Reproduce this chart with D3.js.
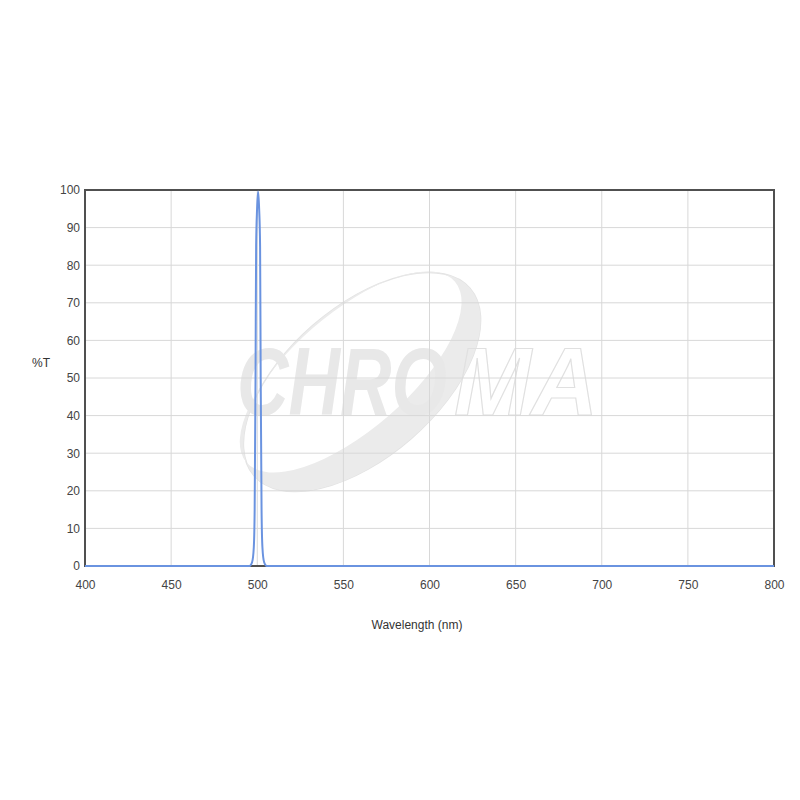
<!DOCTYPE html>
<html>
<head>
<meta charset="utf-8">
<script src="https://cdn.jsdelivr.net/npm/d3@7/dist/d3.min.js"></script>
<style>
  html, body { margin: 0; padding: 0; background: #fff; }
  svg { display: block; }
  text { font-family: "Liberation Sans", Arial, sans-serif; }
</style>
</head>
<body>
<svg id="chart" width="800" height="800"></svg>
<script>
// ---- data ----
const wavelengths = [400, 450, 495.5, 497, 498, 498.5, 499, 499.35, 499.9, 500.5, 501.1, 501.65, 502, 502.5, 503, 504, 505.5, 550, 600, 650, 700, 750, 800];
const transmission = [0, 0, 0, 1, 5, 15, 50, 85, 95, 99.6, 95, 85, 50, 15, 5, 1, 0, 0, 0, 0, 0, 0, 0];
const xTicks = [400, 450, 500, 550, 600, 650, 700, 750, 800];
const yTicks = [0, 10, 20, 30, 40, 50, 60, 70, 80, 90, 100];
const xLabel = "Wavelength (nm)";
const yLabel = "%T";
const watermarkFilled = "CHRO";
const watermarkOutlined = "MA";

const svg = d3.select("#chart");
const m = { left: 85, right: 774, top: 190, bottom: 566 };

const x = d3.scaleLinear().domain([400, 800]).range([m.left, m.right]);
const y = d3.scaleLinear().domain([0, 100]).range([m.bottom, m.top]);

// ---- watermark ----
const wm = svg.append("g").attr("class", "watermark");
const cx = 362, cy = 382, ang = -41;
function ellipsePath(cx0, cy0, rx, ry) {
  return `M${cx0 - rx},${cy0} a${rx},${ry} 0 1,0 ${2 * rx},0 a${rx},${ry} 0 1,0 ${-2 * rx},0 Z`;
}
const eg = wm.append("g").attr("transform", `translate(${cx},${cy}) rotate(${ang})`);
eg.append("path")
  .attr("d", ellipsePath(0, 0, 143, 75))
  .attr("fill", "none")
  .attr("stroke", "#e3e3e3")
  .attr("stroke-width", 1.5);
eg.append("path")
  .attr("d", ellipsePath(0, 0, 143, 75) + " " + ellipsePath(-2, -15, 138, 58))
  .attr("fill", "#ebebeb")
  .attr("fill-rule", "evenodd");

wm.append("text")
  .attr("x", 237).attr("y", 415)
  .attr("textLength", 210).attr("lengthAdjust", "spacingAndGlyphs")
  .style("font-size", "97px").style("font-weight", "bold").style("font-style", "italic")
  .attr("fill", "#e8e8e8")
  .text(watermarkFilled);
wm.append("text")
  .attr("x", 454).attr("y", 415)
  .attr("textLength", 144).attr("lengthAdjust", "spacingAndGlyphs")
  .style("font-size", "97px").style("font-weight", "bold").style("font-style", "italic")
  .attr("fill", "none").attr("stroke", "#e0e0e0").attr("stroke-width", 1.2)
  .text(watermarkOutlined);

// ---- grid ----
const grid = svg.append("g").attr("class", "grid");
grid.selectAll("line.v").data(xTicks).join("line")
  .attr("x1", d => x(d)).attr("x2", d => x(d))
  .attr("y1", m.top).attr("y2", m.bottom)
  .attr("stroke", "#d8d8d8").attr("stroke-width", 1);
grid.selectAll("line.h").data(yTicks).join("line")
  .attr("x1", m.left).attr("x2", m.right)
  .attr("y1", d => y(d)).attr("y2", d => y(d))
  .attr("stroke", "#d8d8d8").attr("stroke-width", 1);

// ---- axes (labels) ----
const xAxis = svg.append("g")
  .attr("transform", `translate(0,${m.bottom})`)
  .call(d3.axisBottom(x).tickValues(xTicks).tickSize(0).tickPadding(14).tickFormat(d3.format("d")));
xAxis.select(".domain").remove();
xAxis.selectAll("text").attr("fill", "#444").style("font-size", "12px")
  .style("font-family", '"Liberation Sans", Arial, sans-serif');

const yAxis = svg.append("g")
  .attr("transform", `translate(${m.left},0)`)
  .call(d3.axisLeft(y).tickValues(yTicks).tickSize(0).tickPadding(5).tickFormat(d3.format("d")));
yAxis.select(".domain").remove();
yAxis.selectAll("text").attr("fill", "#444").style("font-size", "12px")
  .style("font-family", '"Liberation Sans", Arial, sans-serif');

// ---- frame ----
svg.append("rect")
  .attr("x", m.left).attr("y", m.top)
  .attr("width", m.right - m.left).attr("height", m.bottom - m.top)
  .attr("fill", "none").attr("stroke", "#505050").attr("stroke-width", 2);

// ---- curve ----
const line = d3.line().x((d, i) => x(wavelengths[i])).y(d => y(d)).curve(d3.curveMonotoneX);
svg.append("path")
  .datum(transmission)
  .attr("d", line)
  .attr("fill", "none")
  .attr("stroke", "#6a93e0")
  .attr("stroke-width", 2)
  .attr("stroke-linejoin", "round");

// ---- axis titles ----
svg.append("text")
  .attr("x", 41).attr("y", 367)
  .attr("text-anchor", "middle")
  .attr("fill", "#333").style("font-size", "12px")
  .text(yLabel);
svg.append("text")
  .attr("x", 417).attr("y", 629)
  .attr("text-anchor", "middle")
  .attr("fill", "#333").style("font-size", "12px")
  .text(xLabel);
</script>
</body>
</html>
